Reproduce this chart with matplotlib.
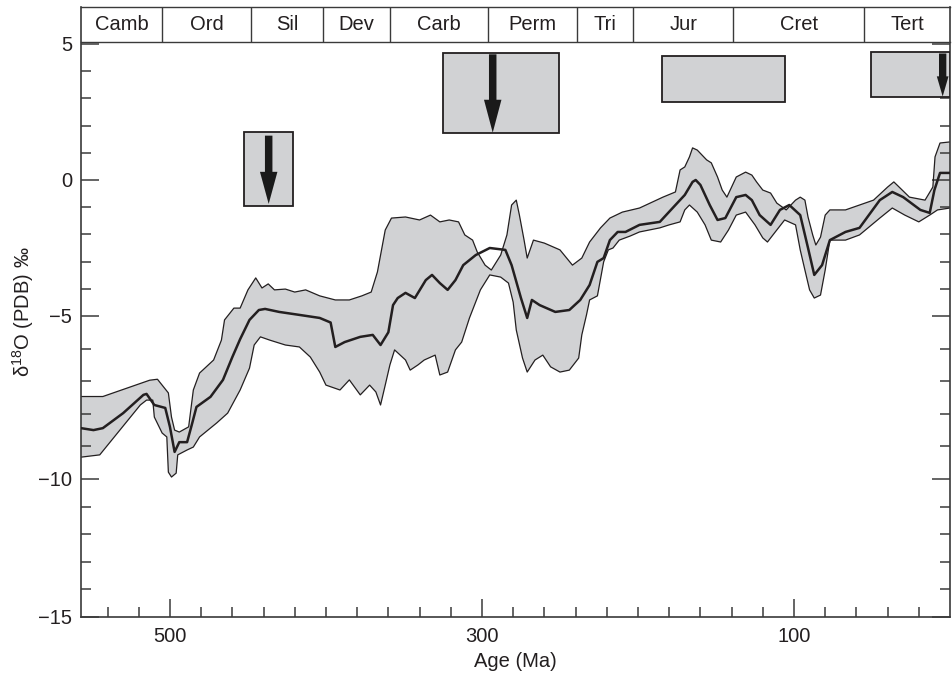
import numpy as np
import matplotlib
matplotlib.use('Agg')
import matplotlib.pyplot as plt
from matplotlib.patches import Rectangle, FancyArrow
import matplotlib.transforms as mtransforms

plt.rcParams['font.family'] = ['Liberation Sans', 'DejaVu Sans']
plt.rcParams['mathtext.fontset'] = 'custom'
plt.rcParams['mathtext.rm'] = 'Liberation Sans'
plt.rcParams['mathtext.it'] = 'Liberation Sans:italic'
plt.rcParams['mathtext.bf'] = 'Liberation Sans:bold'

# ---------------- data (age in Ma, delta18O in permil) ----------------
upper_age = [557, 543, 513, 508, 501, 499, 497, 494, 488, 485, 481, 472, 467, 465, 459, 455,
             450, 445, 441, 437, 433, 426, 420, 413, 404, 394, 385, 377, 371, 367, 362, 358,
             349, 340, 333, 327, 321, 315, 311, 306, 303, 298, 294, 288, 284, 281, 278, 276,
             273, 271, 267, 260, 250, 242, 236, 231, 224, 218, 210, 199, 184, 176, 173, 170,
             167, 165, 162, 156, 153, 149, 146, 143, 140, 137, 131, 127, 124, 120, 115, 111,
             105, 99, 96, 93, 91, 88, 86, 83, 80, 77, 67, 58, 49, 40, 36, 26, 16, 11, 9.6, 6.4, 0]
upper_val = [-7.47, -7.47, -6.97, -6.94, -7.36, -8.10, -8.50, -8.56, -8.40, -7.27, -6.75, -6.35, -5.74, -5.12, -4.71, -4.71,
             -4.04, -3.60, -3.97, -3.82, -4.04, -4.01, -4.12, -4.04, -4.26, -4.41, -4.41, -4.26, -4.12, -3.38, -1.84, -1.40,
             -1.36, -1.47, -1.29, -1.54, -1.47, -1.54, -2.02, -2.21, -2.65, -3.13, -3.31, -2.76, -2.02, -0.92, -0.74, -1.29,
             -2.21, -2.87, -2.21, -2.32, -2.57, -3.13, -2.87, -2.28, -1.76, -1.40, -1.18, -1.03, -0.63, -0.44, 0.37, 0.48,
             0.85, 1.18, 1.10, 0.74, 0.63, 0.11, -0.37, -0.63, -0.26, 0.11, 0.29, 0.18, -0.07, -0.37, -0.48, -0.85,
             -1.10, -0.74, -0.63, -0.74, -1.36, -2.02, -2.39, -2.10, -1.29, -1.10, -1.10, -0.92, -0.74, -0.26, -0.07, -0.63, -0.74, -0.26, 0.85, 1.36, 1.40]

center_age = [557, 549, 543, 530, 517, 515, 510, 503, 500, 497, 494, 489, 486, 483, 474, 466, 460, 455,
              449, 443, 439, 430, 417, 404, 397, 394, 388, 378, 370, 365, 360, 357, 354, 349,
              343, 336, 332, 327, 322, 317, 312, 304, 295, 285, 281, 275, 271, 268, 263, 253,
              244, 237, 231, 226, 222, 218, 213, 208, 199, 186, 176, 170, 165, 163, 160, 154,
              149, 144, 137, 131, 127, 122, 115, 109, 103, 96, 91, 87, 82, 77, 67, 58, 45, 37,
              30, 19, 13, 10, 6.4, 0]
center_val = [-8.44, -8.50, -8.44, -7.98, -7.42, -7.39, -7.73, -7.82, -8.40, -9.17, -8.87, -8.87, -8.34, -7.79, -7.48, -6.96, -6.26, -5.71,
              -5.12, -4.78, -4.74, -4.85, -4.96, -5.06, -5.20, -5.95, -5.80, -5.64, -5.58, -5.89, -5.50, -4.60, -4.34, -4.15,
              -4.34, -3.68, -3.49, -3.79, -4.04, -3.68, -3.13, -2.76, -2.50, -2.57, -3.13, -4.34, -5.06, -4.41, -4.60, -4.85,
              -4.78, -4.41, -3.86, -3.01, -2.87, -2.21, -1.91, -1.91, -1.65, -1.54, -0.92, -0.55, -0.07, 0.0, -0.18, -0.92,
              -1.47, -1.40, -0.63, -0.55, -0.74, -1.29, -1.65, -1.10, -0.92, -1.29, -2.50, -3.49, -3.13, -2.21, -1.91, -1.76, -0.74, -0.44,
              -0.63, -1.10, -1.21, -0.37, 0.26, 0.26]

lower_age = [557, 545, 519, 515, 511, 510, 505, 502, 501, 499, 496, 495, 489, 485, 481, 470, 463, 455,
             449, 446, 442, 436, 426, 417, 410, 404, 400, 391, 385, 378, 372, 368, 365, 362, 359, 356,
             349, 346, 341, 337, 330, 327, 322, 317, 313, 308, 301, 295, 288, 283, 280, 278, 274, 271,
             266, 261, 256, 250, 244, 238, 236, 233, 231, 226, 222, 219, 216, 212, 205, 199, 186, 180,
             173, 170, 167, 162, 157, 153, 147, 142, 137, 131, 125, 120, 117, 112, 106, 99, 96, 93, 90,
             87, 83, 80, 77, 67, 58, 45, 37, 29, 20, 13, 8, 0]
lower_val = [-9.33, -9.26, -7.73, -7.58, -7.58, -8.10, -8.59, -8.71, -9.79, -9.94, -9.82, -9.26, -9.11, -9.02, -8.71, -8.28, -7.98, -7.27,
             -6.60, -5.89, -5.64, -5.74, -5.89, -5.95, -6.26, -6.72, -7.12, -7.27, -6.96, -7.42, -7.12, -7.33, -7.73, -7.12, -6.50, -6.04,
             -6.35, -6.66, -6.50, -6.35, -6.20, -6.81, -6.72, -6.04, -5.80, -5.06, -4.04, -3.49, -3.57, -3.79, -4.49, -5.43, -6.29, -6.72,
             -6.35, -6.20, -6.56, -6.72, -6.66, -6.29, -5.58, -4.96, -4.41, -4.26, -3.01, -2.57, -2.50, -2.21, -2.06, -1.91, -1.76, -1.65,
             -1.54, -1.10, -0.92, -1.18, -1.65, -2.21, -2.28, -1.84, -1.29, -1.18, -1.65, -2.13, -2.28, -1.91, -1.47, -1.65, -2.57, -3.31, -4.04,
             -4.34, -4.23, -3.31, -2.21, -2.21, -2.02, -1.40, -1.03, -1.29, -1.54, -1.29, -1.10, -1.03]

# geologic periods
periods = ['Camb', 'Ord', 'Sil', 'Dev', 'Carb', 'Perm', 'Tri', 'Jur', 'Cret', 'Tert']
period_bounds = [557, 505, 448, 402, 359, 296, 239, 203, 139, 55, 0]

# grey boxes (age range, delta range)
box_old = [452.6, 325.2, 184.4, 50.8]
box_young = [421.3, 250.6, 105.8, 0.0]
box_low = [-0.94, 1.74, 2.86, 3.04]
box_high = [1.78, 4.68, 4.57, 4.72]

# arrows inside boxes
arrow_age = [436.7, 293.1, 4.7]
arrow_start = [1.63, 4.62, 4.65]
arrow_end = [-0.88, 1.74, 3.07]

# ticks
x_major = [500, 300, 100]
x_minor = [540, 520, 480, 460, 440, 420, 400, 380, 360, 340, 320, 280, 260, 240, 220,
           200, 180, 160, 140, 120, 80, 60, 40, 20]
y_major = [5, 0, -5, -10, -15]
y_major_labels = ['5', '0', '\u22125', '\u221210', '\u221215']
y_minor = [4, 3, 2, 1, -1, -2, -3, -4, -6, -7, -8, -9, -11, -12, -13, -14]

# ---------------- y scale as drawn in the reference (piecewise linear) ----------------
scale_vals = [-1000.0, -15.0, -10.0, -5.0, 0.0, 5.0, 1000.0]
scale_pos = [-985 * 27.6, 0.0, 138.0, 301.0, 437.0, 573.0, 573.0 + 995 * 27.2]


def fwd(v):
    return np.interp(v, scale_vals, scale_pos)


def inv(p):
    return np.interp(p, scale_pos, scale_vals)


# ---------------- figure ----------------
W, H = 953, 676
fig = plt.figure(figsize=(W / 100, H / 100), dpi=100)
ax = fig.add_axes([81 / W, (H - 617) / H, (950 - 81) / W, (617 - 7) / H])
ax.set_yscale('function', functions=(fwd, inv))
ax.set_xlim(557, 0)
ax.set_ylim(-15, 6.36)

band_color = '#d1d2d4'
edge_col = '#231f20'

# envelope fill
poly_x = list(upper_age) + list(lower_age[::-1])
poly_y = list(upper_val) + list(lower_val[::-1])
ax.fill(poly_x, poly_y, facecolor=band_color, edgecolor='none', zorder=1)
ax.plot(upper_age, upper_val, color=edge_col, lw=0.9, zorder=2, solid_joinstyle='round')
ax.plot(lower_age, lower_val, color=edge_col, lw=0.9, zorder=2, solid_joinstyle='round')
ax.plot(center_age, center_val, color=edge_col, lw=1.8, zorder=3, solid_joinstyle='round')

# boxes
for o, yv, lo, hi in zip(box_old, box_young, box_low, box_high):
    ax.add_patch(Rectangle((yv, lo), o - yv, hi - lo, facecolor=band_color,
                           edgecolor=edge_col, lw=1.3, zorder=4))

# arrows
arrow_shaft = [4.8, 4.8, 4.7]
arrow_head_w = [11.2, 11.2, 7.5]
arrow_head_l = [1.18, 1.21, 0.74]
for a, s, e, sw, hw, hl in zip(arrow_age, arrow_start, arrow_end, arrow_shaft, arrow_head_w, arrow_head_l):
    ax.add_patch(FancyArrow(a, s, 0, e - s, width=sw, head_width=hw, head_length=hl,
                            length_includes_head=True, facecolor='#1a1a1a', edgecolor='none',
                            zorder=5))

# period band at top
band_bottom = (617 - 42) / (617 - 7)
trans = mtransforms.blended_transform_factory(ax.transData, ax.transAxes)
ax.plot([557, 0], [band_bottom, band_bottom], transform=trans, color='#3a3a3a', lw=1.0,
        zorder=6, clip_on=False)
ax.vlines(period_bounds[1:-1], band_bottom, 1.0, transform=trans, color='#3a3a3a', lw=1.0, zorder=6)
for i, name in enumerate(periods):
    xc = (period_bounds[i] + period_bounds[i + 1]) / 2
    ax.text(xc, (band_bottom + 1.0) / 2, name, transform=trans, ha='center', va='center',
            fontsize=14.5, color='#231f20', zorder=7)

# axes styling
for sp in ax.spines.values():
    sp.set_color('#3a3a3a')
    sp.set_linewidth(1.2)
ax.spines['top'].set_linewidth(1.0)

ax.set_xticks(x_major)
ax.set_xticklabels([str(v) for v in x_major])
ax.set_xticks(x_minor, minor=True)
ax.set_yticks(y_major)
ax.set_yticklabels(y_major_labels)
ax.set_yticks(y_minor, minor=True)

ax.tick_params(axis='both', which='both', direction='in', colors='#3a3a3a',
               labelcolor='#231f20', labelsize=14.5, width=1.1)
ax.tick_params(axis='both', which='major', length=13)
ax.tick_params(axis='both', which='minor', length=7.5)
ax.tick_params(axis='y', which='both', left=True, right=True, pad=6.5)
ax.tick_params(axis='x', which='both', bottom=True, top=False, pad=7)

ax.set_xlabel('Age (Ma)', fontsize=14.5, color='#231f20')
ax.xaxis.set_label_coords(0.5, -0.057)
ax.set_ylabel('\u03b4$^{18}$O (PDB) \u2030', fontsize=14.5, color='#231f20')
ax.yaxis.set_label_coords(-0.052, 0.5)

fig.savefig('out.png', dpi=100)
